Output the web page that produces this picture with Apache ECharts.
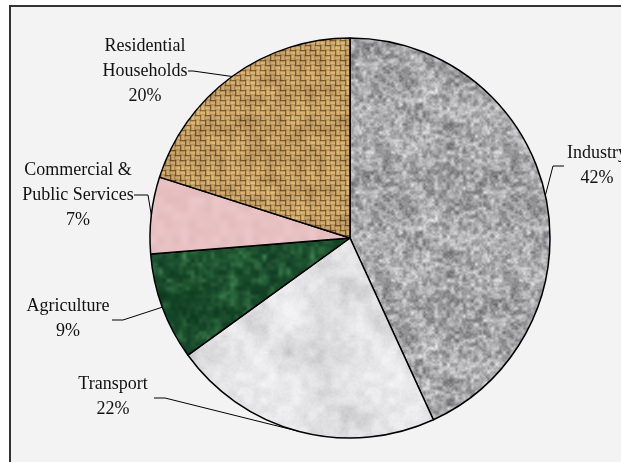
<!DOCTYPE html>
<html>
<head>
<meta charset="utf-8">
<script src="https://cdn.jsdelivr.net/npm/echarts@6/dist/echarts.min.js"></script>
<style>
html,body{margin:0;padding:0;background:#ffffff;}
#chart{width:621px;height:462px;}
</style>
</head>
<body>
<div id="chart"></div>
<script>
// ---- data ----
var categories = ['Industry', 'Transport', 'Agriculture', 'Commercial &\nPublic Services', 'Residential\nHouseholds'];
var shares = [43.2, 21.9, 8.7, 6.2, 20.1];          // slice sizes
var shareLabels = ['42%', '22%', '9%', '7%', '20%']; // percentages printed on the chart

// ---- seeded PRNG for textures ----
function rng(seed){return function(){seed|=0;seed=seed+0x6D2B79F5|0;var t=Math.imul(seed^seed>>>15,1|seed);t=t+Math.imul(t^t>>>7,61|t)^t;return((t^t>>>14)>>>0)/4294967296;};}

// tileable value noise (w and h must be multiples of cell)
function valueNoise(w,h,cell,rand){
  var gw=w/cell, gh=h/cell, g=[];
  for(var i=0;i<gw*gh;i++) g.push(rand());
  function at(ix,iy){return g[((iy%gh+gh)%gh)*gw+((ix%gw+gw)%gw)];}
  return function(x,y){
    var fx=x/cell, fy=y/cell, ix=Math.floor(fx), iy=Math.floor(fy), tx=fx-ix, ty=fy-iy;
    tx=tx*tx*(3-2*tx); ty=ty*ty*(3-2*ty);
    var a=at(ix,iy), b=at(ix+1,iy), c=at(ix,iy+1), d=at(ix+1,iy+1);
    return a+(b-a)*tx+(c-a)*ty+(a-b-c+d)*tx*ty;
  };
}

function makeCanvas(w,h,fn){
  var c=document.createElement('canvas'); c.width=w; c.height=h;
  var ctx=c.getContext('2d'); var img=ctx.createImageData(w,h);
  for(var y=0;y<h;y++)for(var x=0;x<w;x++){
    var col=fn(x,y), k=(y*w+x)*4;
    img.data[k]=col[0];img.data[k+1]=col[1];img.data[k+2]=col[2];img.data[k+3]=255;
  }
  ctx.putImageData(img,0,0); return c;
}
function clamp(v){return Math.max(0,Math.min(255,Math.round(v)));}

// granite
var gr=rng(11), n1=valueNoise(128,128,4,gr), n2=valueNoise(128,128,2,gr), n3=valueNoise(128,128,16,gr);
var granite=makeCanvas(128,128,function(x,y){
  var v=n1(x,y)*0.55+n2(x,y)*0.3+n3(x,y)*0.25;
  var g=clamp(92+v*135);
  return [g,g,clamp(g+3)];
});
// white marble
var mr=rng(23), m1=valueNoise(128,128,32,mr), m2=valueNoise(128,128,8,mr), m3=valueNoise(128,128,2,mr);
var marble=makeCanvas(128,128,function(x,y){
  var v=m1(x,y)*0.5+m2(x,y)*0.35+m3(x,y)*0.15;
  var g=clamp(246-Math.pow(v,1.4)*55);
  return [g,g,clamp(g+2)];
});
// green marble
var er=rng(37), e1=valueNoise(128,128,8,er), e2=valueNoise(128,128,4,er), e3=valueNoise(128,128,32,er);
var green=makeCanvas(128,128,function(x,y){
  var v=e1(x,y)*0.45+e2(x,y)*0.35+e3(x,y)*0.2;
  v=Math.pow(v,2.0);
  return [clamp(14+v*55),clamp(58+v*85),clamp(32+v*55)];
});
// pink
var pr=rng(51), p1=valueNoise(64,64,8,pr);
var pink=makeCanvas(64,64,function(x,y){
  var v=p1(x,y);
  return [clamp(226+v*10),clamp(186+v*12),clamp(188+v*12)];
});
// burlap weave
var br=rng(71), b1=valueNoise(100,100,10,br), b2=valueNoise(100,100,2,br);
var burlap=makeCanvas(100,100,function(x,y){
  var cx=Math.floor(x/5), cy=Math.floor(y/5), px=x%5, py=y%5;
  var horiz=((cx+cy)%2===0);
  var along = horiz ? py : px;
  var s;
  if(along===0) s=-60; else if(along===1||along===4) s=0; else s=28;
  if(horiz ? (px===0) : (py===0)) s-=18;
  var v=b1(x,y)*34-17+b2(x,y)*14-7;
  return [clamp(184+s+v),clamp(148+s*0.9+v),clamp(92+s*0.7+v*0.6)];
});

var textures=[granite, marble, green, pink, burlap];

// label placement (text anchor, knee of leader, end of leader)
var labelPlace=[
  {x:597,y:166,knee:[553,166],end:[564,166]},
  {x:113,y:397,knee:[165,398],end:[154,398]},
  {x:68,y:319,knee:[123,320],end:[112,320]},
  {x:78,y:195,knee:[148,195],end:[134,195]},
  {x:145,y:71,knee:[193,71],end:[188,71]}
];

var chart=echarts.init(document.getElementById('chart'),null,{renderer:'canvas'});
var seriesData=categories.map(function(c,i){
  return {name:c,value:shares[i],itemStyle:{color:{image:textures[i],repeat:'repeat'}}};
});

chart.setOption({
  backgroundColor:'#ffffff',
  animation:false,
  graphic:[{type:'rect',z:-10,shape:{x:10,y:6,width:640,height:470},
    style:{fill:'#f3f3f3',stroke:'#333333',lineWidth:2}}],
  series:[{
    type:'pie',
    center:[350,238],
    radius:200,
    startAngle:90,
    clockwise:true,
    avoidLabelOverlap:false,
    data:seriesData,
    itemStyle:{borderColor:'#000000',borderWidth:1.5},
    emphasis:{disabled:true},
    label:{
      show:true,
      position:'outside',
      formatter:function(p){return p.name+'\n'+shareLabels[p.dataIndex];},
      fontFamily:'Liberation Serif',
      fontSize:18,
      lineHeight:25,
      color:'#111111',
      align:'center'
    },
    labelLine:{show:true,length:10,length2:10,lineStyle:{color:'#000000',width:1}},
    labelLayout:function(params){
      var L=labelPlace[params.dataIndex];
      var p0=params.labelLinePoints?params.labelLinePoints[0]:L.knee;
      return {x:L.x,y:L.y,align:'center',verticalAlign:'middle',
        labelLinePoints:[p0,L.knee,L.end]};
    }
  }]
});
</script>
</body>
</html>
